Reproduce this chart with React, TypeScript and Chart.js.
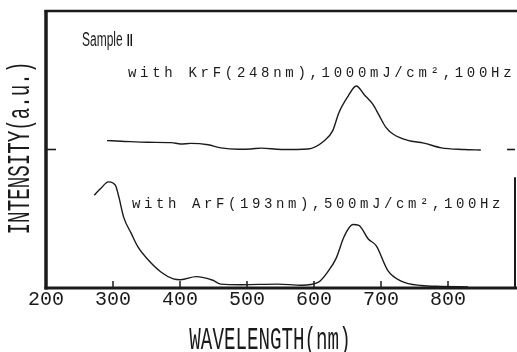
import { useEffect, useRef } from 'react';
import { Chart, registerables } from 'chart.js';

Chart.register(...registerables);

// ---- data ----
const krfWavelength = [291, 312, 352, 387, 401, 416, 442, 461, 487, 506, 521, 551, 591, 615, 628, 637, 651, 663, 675, 688, 697, 707, 719, 740, 764, 790, 824, 849];
const krfIntensity = [53.2, 53.0, 52.6, 52.5, 52.0, 52.2, 51.7, 50.6, 50.1, 50.2, 50.5, 50.0, 50.2, 53.1, 56.8, 63.2, 69.3, 72.9, 69.8, 66.3, 62.4, 58.1, 55.4, 53.3, 52.3, 50.6, 50.0, 49.8];

const arfWavelength = [272, 282, 293, 300, 304, 309, 316, 327, 337, 352, 372, 390, 401, 424, 449, 461, 491, 546, 581, 606, 621, 633, 645, 658, 667, 681, 693, 710, 730, 760, 790, 830];
const arfIntensity = [33.5, 36.0, 38.3, 37.9, 36.9, 32.6, 25.5, 19.8, 14.9, 10.3, 5.7, 3.3, 3.0, 4.1, 2.8, 1.4, 1.2, 1.4, 1.0, 2.0, 6.0, 10.7, 18.6, 22.9, 22.6, 17.7, 15.2, 6.4, 2.5, 0.9, 0.6, 0.4];

const xMin = 200;
const xMax = 900;
const xStep = 100;
const yMin = 0;
const yMax = 100;
const yMarkTicks = [50];

const sampleLabel = 'Sample';
const sampleNumeral = 'Ⅱ';
const krfLabel = 'with KrF(248nm),1000mJ/cm²,100Hz';
const arfLabel = 'with ArF(193nm),500mJ/cm²,100Hz';
const xTitle = 'WAVELENGTH(nm)';
const yTitle = 'INTENSITY(a.u.)';

const ink = '#1b1b1b';

function drawText(
  ctx: CanvasRenderingContext2D,
  text: string,
  x: number,
  y: number,
  o: { font: string; sx?: number; spacing?: string; align?: CanvasTextAlign; rotate?: number }
) {
  ctx.save();
  ctx.translate(x, y);
  if (o.rotate) ctx.rotate(o.rotate);
  ctx.scale(o.sx ?? 1, 1);
  ctx.font = o.font;
  (ctx as any).letterSpacing = o.spacing ?? '0px';
  ctx.textAlign = o.align ?? 'left';
  ctx.textBaseline = 'alphabetic';
  ctx.fillStyle = ink;
  ctx.fillText(text, 0, 0);
  ctx.restore();
}

const framePlugin = {
  id: 'scanFrame',
  afterDraw(chart: any) {
    const { ctx, chartArea: a, scales } = chart;
    const xs = scales.x;
    const ys = scales.y;
    ctx.save();
    ctx.strokeStyle = ink;
    ctx.lineCap = 'butt';
    const seg = (x1: number, y1: number, x2: number, y2: number, w: number) => {
      ctx.lineWidth = w;
      ctx.beginPath();
      ctx.moveTo(x1, y1);
      ctx.lineTo(x2, y2);
      ctx.stroke();
    };
    // frame
    seg(a.left, a.top - 1, a.left, a.bottom + 1.5, 3.5);
    seg(a.left - 1.5, a.bottom, a.right + 2, a.bottom, 3);
    seg(a.left - 1.5, a.top, a.right + 2, a.top, 2.5);
    seg(a.right, ys.getPixelForValue(40), a.right, a.bottom, 2);
    // inward x ticks
    xs.ticks.forEach((t: any) => {
      if (t.value <= xs.min || t.value >= xs.max) return;
      const p = xs.getPixelForValue(t.value);
      seg(p, a.bottom, p, a.bottom - 7, 1.5);
    });
    // inward y ticks
    yMarkTicks.forEach((v) => {
      const p = ys.getPixelForValue(v);
      seg(a.left, p, a.left + 10, p, 1.6);
      seg(a.right, p, a.right - 8, p, 1.6);
    });
    ctx.restore();

    // texts
    drawText(ctx, sampleLabel, 82, 46, { font: '20px "Liberation Sans"', sx: 0.6 });
    drawText(ctx, sampleNumeral, 126, 46, { font: '17px "Liberation Serif"', sx: 0.9 });
    drawText(ctx, krfLabel, 128, 77, { font: '14px "Liberation Mono"', spacing: '3.7px' });
    drawText(ctx, arfLabel, 132, 208, { font: '14px "Liberation Mono"', spacing: '3.6px' });
    drawText(ctx, xTitle, 270, 349, { font: '32px "Liberation Mono"', sx: 0.6, align: 'center' });
    drawText(ctx, yTitle, 29, 148, { font: '32px "Liberation Mono"', sx: 0.6, align: 'center', rotate: -Math.PI / 2 });
  },
};

export default function App() {
  const ref = useRef<HTMLCanvasElement | null>(null);

  useEffect(() => {
    if (!ref.current) return;
    const chart = new Chart(ref.current, {
      type: 'line',
      data: {
        datasets: [
          {
            label: 'KrF',
            data: krfWavelength.map((x, i) => ({ x, y: krfIntensity[i] })),
            borderColor: ink,
            borderWidth: 1.4,
            pointRadius: 0,
            cubicInterpolationMode: 'monotone',
            fill: false,
          },
          {
            label: 'ArF',
            data: arfWavelength.map((x, i) => ({ x, y: arfIntensity[i] })),
            borderColor: ink,
            borderWidth: 1.4,
            pointRadius: 0,
            cubicInterpolationMode: 'monotone',
            fill: false,
          },
        ],
      },
      options: {
        responsive: false,
        animation: false,
        events: [],
        layout: { padding: { left: 46, right: 2, top: 11, bottom: 40 } },
        plugins: {
          legend: { display: false },
          tooltip: { enabled: false },
          title: { display: false },
        },
        scales: {
          x: {
            type: 'linear',
            min: xMin,
            max: xMax,
            grid: { display: false, drawTicks: false },
            border: { display: false },
            ticks: {
              stepSize: xStep,
              autoSkip: false,
              maxRotation: 0,
              padding: 2,
              color: ink,
              font: { family: '"Liberation Mono"', size: 20, lineHeight: 1 },
              callback: (v: any) => (v >= xMax ? null : String(v)),
            },
          },
          y: {
            display: false,
            min: yMin,
            max: yMax,
          },
        },
      },
      plugins: [framePlugin],
    } as any);
    return () => chart.destroy();
  }, []);

  return (
    <div style={{ position: 'fixed', left: 0, top: 0, width: 517, height: 352, background: '#fff' }}>
      <canvas ref={ref} width={517} height={352} style={{ display: 'block', width: 517, height: 352 }} />
    </div>
  );
}
